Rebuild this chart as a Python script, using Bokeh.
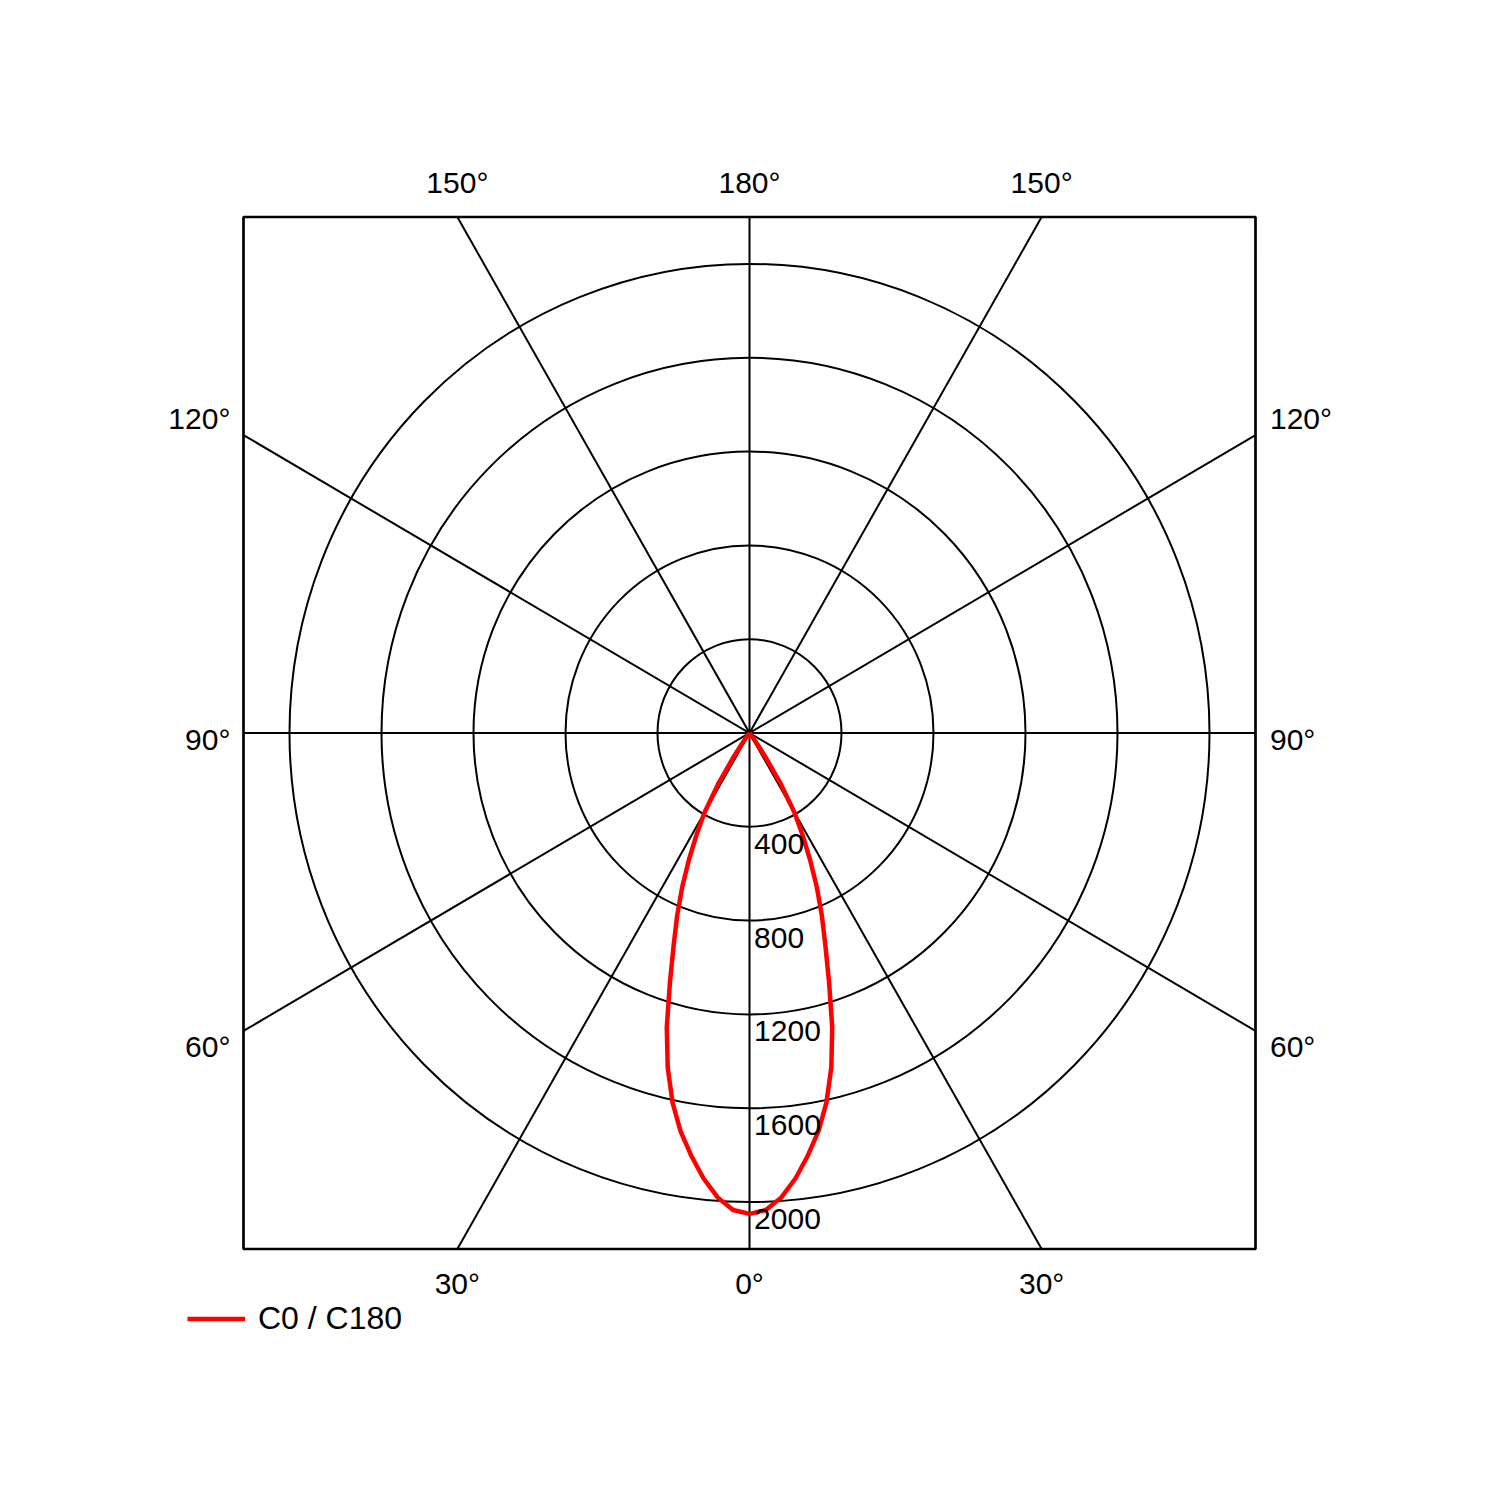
import numpy as np
from bokeh.plotting import figure
from bokeh.models import Label, Legend, LegendItem, ColumnDataSource
from bokeh.embed import file_html
from bokeh.resources import INLINE

# ---- data ----
gamma_deg = [0, 2, 4, 6, 8, 10, 12, 14, 16, 18, 20, 22, 24, 26, 28, 30,
             32, 34, 36, 38, 40, 45, 50, 60, 70, 80, 90, 120, 150, 180]
intensity_c0 = [2050, 2035, 1985, 1910, 1820, 1725, 1610, 1470, 1305, 1120, 965, 840,
                720, 600, 490, 390, 260, 130, 50, 10, 0, 0, 0, 0, 0, 0, 0, 0, 0, 0]
intensity_c180 = [2050, 2035, 1985, 1910, 1820, 1725, 1610, 1470, 1305, 1120, 965, 840,
                  720, 600, 490, 390, 260, 130, 50, 10, 0, 0, 0, 0, 0, 0, 0, 0, 0, 0]
ring_values = [400, 800, 1200, 1600, 2000]
spoke_angles = [0, 30, 60, 90, 120, 150]
top_labels = ["150°", "180°", "150°"]
bottom_labels = ["30°", "0°", "30°"]
left_labels = ["120°", "90°", "60°"]
right_labels = ["120°", "90°", "60°"]
series_name = "C0 / C180"

R = 2200.0            # half-size of the square polar box (data units)
FONT = "Liberation Sans"
W = H = 1490
CX, CY = 749.0, 732.5          # pixel position of the pole
SX, SY = 1012 / (2 * R), 1032 / (2 * R)   # pixels per data unit

p = figure(width=W, height=H,
           x_range=(-CX / SX, (W - CX) / SX),
           y_range=(-(H - CY) / SY, CY / SY),
           x_axis_location=None, y_axis_location=None,
           output_backend="svg", toolbar_location=None,
           min_border=0, min_border_left=0, min_border_right=0,
           min_border_top=0, min_border_bottom=0)
p.xgrid.visible = False
p.ygrid.visible = False
p.outline_line_color = None
p.background_fill_color = "white"
p.border_fill_color = "white"

# rings
p.ellipse(x=[0] * len(ring_values), y=[0] * len(ring_values),
          width=[2 * v for v in ring_values], height=[2 * v for v in ring_values],
          fill_alpha=0, line_color="black", line_width=2)

# spokes (0° points down), clipped to the square box
a = np.radians(spoke_angles)
s, c = np.sin(a), np.cos(a)
with np.errstate(divide="ignore"):
    t = np.minimum(np.where(np.abs(s) > 1e-9, R / np.abs(s), np.inf),
                   np.where(np.abs(c) > 1e-9, R / np.abs(c), np.inf))
p.segment(x0=list(-t * s), y0=list(t * c), x1=list(t * s), y1=list(-t * c),
          line_color="black", line_width=2)

# box
p.rect(x=[0], y=[0], width=[2 * R], height=[2 * R], fill_alpha=0,
       line_color="black", line_width=2.7)

# curve: C180 half on the left (reversed), C0 half on the right
g = np.radians(gamma_deg)
i0 = np.array(intensity_c0, dtype=float)
i180 = np.array(intensity_c180, dtype=float)
xs = list(-(i180 * np.sin(g))[::-1]) + list((i0 * np.sin(g))[1:])
ys = list(-(i180 * np.cos(g))[::-1]) + list(-(i0 * np.cos(g))[1:])
src = ColumnDataSource(dict(x=xs, y=ys))
curve = p.line("x", "y", source=src, line_color="red", line_width=4.5, line_join="round")

# radial value labels
for v in ring_values:
    p.add_layout(Label(x=20, y=-v - 72, text=str(v), text_font=FONT,
                       text_font_size="30px", text_align="left", text_baseline="middle",
                       text_color="black"))

t30 = np.tan(np.radians(30))
xpos = [-R * t30, 0, R * t30]
for txt, xx in zip(top_labels, xpos):
    p.add_layout(Label(x=xx, y=R + 145, text=txt, text_font=FONT, text_font_size="30px",
                       text_align="center", text_baseline="middle", text_color="black"))
for txt, xx in zip(bottom_labels, xpos):
    p.add_layout(Label(x=xx, y=-R - 145, text=txt, text_font=FONT, text_font_size="30px",
                       text_align="center", text_baseline="middle", text_color="black"))
ypos = [R * t30 + 70, -28, -R * t30 - 68]
for txt, yy in zip(left_labels, ypos):
    p.add_layout(Label(x=-R - 57, y=yy, text=txt, text_font=FONT, text_font_size="30px",
                       text_align="right", text_baseline="middle", text_color="black"))
for txt, yy in zip(right_labels, ypos):
    p.add_layout(Label(x=R + 63, y=yy, text=txt, text_font=FONT, text_font_size="30px",
                       text_align="left", text_baseline="middle", text_color="black"))

legend = Legend(items=[LegendItem(label=series_name, renderers=[curve])],
                location=(187, 153), orientation="vertical",
                glyph_width=58, glyph_height=37, label_height=37, label_standoff=13,
                label_text_font=FONT, label_text_font_size="32px",
                label_text_baseline="middle", label_text_color="black",
                padding=0, margin=0, spacing=0,
                border_line_alpha=0, background_fill_alpha=0)
p.add_layout(legend)

open("out.html", "w").write(file_html(p, INLINE))
